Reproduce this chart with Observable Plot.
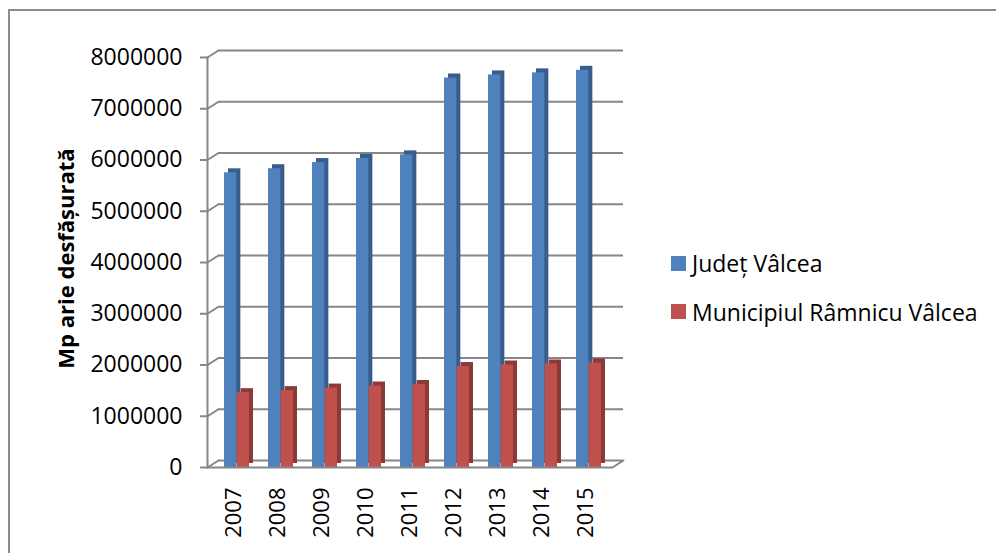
<!DOCTYPE html>
<html>
<head>
<meta charset="utf-8">
<script src="https://cdn.jsdelivr.net/npm/d3@7"></script>
<script src="https://cdn.jsdelivr.net/npm/@observablehq/plot@0.6"></script>
<style>
  html, body { margin: 0; padding: 0; background: #fff; overflow: hidden; }
  #wrap { position: relative; width: 996px; height: 553px; overflow: hidden; font-family: "Open Sans", sans-serif; }
  #border { position: absolute; left: 8px; top: 9px; width: 1000px; height: 560px; border: 2px solid #8c8c8c; box-sizing: border-box; }
  #chart { position: absolute; left: 0; top: 0; }
  .item { position: absolute; left: 671px; display: flex; align-items: center; font-size: 23px; color: #000; white-space: nowrap; }
  .sw { width: 15px; height: 15px; margin-right: 6px; }
</style>
</head>
<body>
<div id="wrap">
  <div id="border"></div>
  <div id="chart"></div>
  <div id="legend"></div>
</div>
<script>
const years = ["2007", "2008", "2009", "2010", "2011", "2012", "2013", "2014", "2015"];
const judet = [5750000, 5830000, 5950000, 6030000, 6100000, 7600000, 7660000, 7700000, 7750000];
const municipiu = [1460000, 1500000, 1550000, 1590000, 1620000, 1970000, 2000000, 2020000, 2040000];
const seriesNames = ["Județ Vâlcea", "Municipiul Râmnicu Vâlcea"];
const yTicks = [0, 1000000, 2000000, 3000000, 4000000, 5000000, 6000000, 7000000, 8000000];
const yTitle = "Mp arie desfășurată";

const colors = ["#4f81bd", "#c0504d"];
const sideColors = ["#385d8a", "#8c3a38"];

const rowsJ = years.map((y, i) => ({year: y, series: seriesNames[0], value: judet[i]}));
const rowsM = years.map((y, i) => ({year: y, series: seriesNames[1], value: municipiu[i]}));

const grid = "#868686";
const lineShape = { draw(context, l) { context.moveTo(0, 0); context.lineTo(0, -l); } };
const half = 12.65;

const chart = Plot.plot({
  width: 996,
  height: 553,
  marginLeft: 207,
  marginRight: 384,
  marginTop: 57,
  marginBottom: 86,
  style: { fontFamily: "Open Sans, sans-serif", fontSize: "23px", color: "#000", background: "transparent" },
  x: { type: "band", domain: years, range: [212, 612.6], paddingInner: 0.434, paddingOuter: 0.2, label: null },
  y: { domain: [0, 8000000], ticks: yTicks, label: null },
  marks: [
    // back wall gridlines
    Plot.ruleY(yTicks, { stroke: grid, strokeWidth: 2, dx: 11, dy: -7 }),
    // left wall diagonals
    Plot.vector(yTicks, { y: d => d, frameAnchor: "left", length: 13, rotate: 57.5, anchor: "start", shape: lineShape, stroke: grid, strokeWidth: 2 }),
    // right floor diagonal
    Plot.vector([0], { y: d => d, frameAnchor: "right", length: 13, rotate: 57.5, anchor: "start", shape: lineShape, stroke: grid, strokeWidth: 2 }),
    // bars: shadows (3D sides) then fronts
    Plot.barY(rowsJ, { x: "year", y: "value", fill: sideColors[0], insetRight: half, dx: 4, dy: -4 }),
    Plot.barY(rowsJ, { x: "year", y: "value", fill: colors[0], insetRight: half }),
    Plot.barY(rowsM, { x: "year", y: "value", fill: sideColors[1], insetLeft: half, dx: 4, dy: -4 }),
    Plot.barY(rowsM, { x: "year", y: "value", fill: colors[1], insetLeft: half }),
    // front floor edge
    Plot.ruleY([0], { stroke: grid, strokeWidth: 2 }),
    // left axis line
    Plot.frame({ anchor: "left", stroke: grid, strokeWidth: 2 }),
    Plot.axisY({ ticks: yTicks, tickSize: 7, tickPadding: 18, tickFormat: d => String(d), stroke: grid, strokeWidth: 2, fill: "#000", fontSize: 23, label: null }),
    Plot.axisX({ tickSize: 0, tickRotate: -90, tickPadding: 20, fill: "#000", fontSize: 22, dx: -3, label: null }),
    Plot.text([yTitle], { frameAnchor: "left", textAnchor: "middle", rotate: -90, dx: -141, dy: -4, fontWeight: "bold", fontSize: 22, fill: "#000" })
  ]
});
document.getElementById("chart").appendChild(chart);

const legend = document.getElementById("legend");
const centers = [263, 311.5];
seriesNames.forEach((name, i) => {
  const item = document.createElement("div");
  item.className = "item";
  item.style.top = (centers[i] - 16) + "px";
  item.style.height = "32px";
  const sw = document.createElement("div");
  sw.className = "sw";
  sw.style.background = colors[i];
  const label = document.createElement("span");
  label.textContent = name;
  item.appendChild(sw);
  item.appendChild(label);
  legend.appendChild(item);
});
</script>
</body>
</html>
